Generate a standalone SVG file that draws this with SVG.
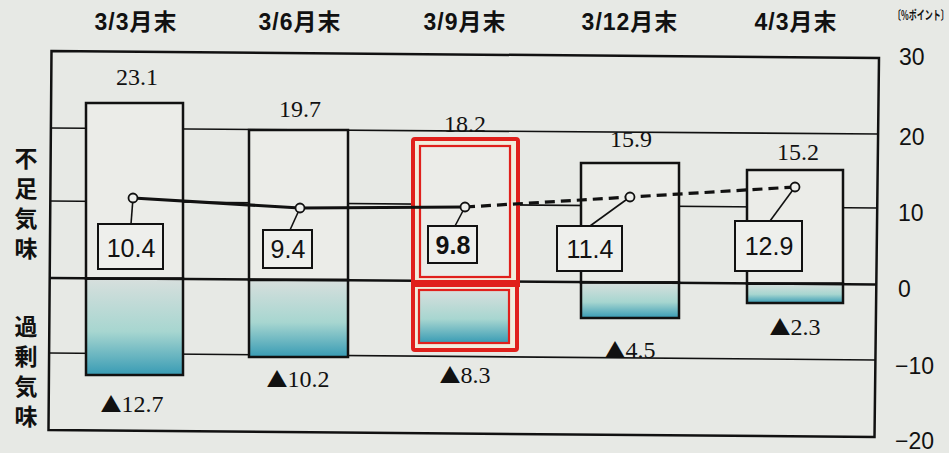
<svg xmlns="http://www.w3.org/2000/svg" width="949" height="453" viewBox="0 0 949 453">
<defs>
<linearGradient id="neg" x1="0" y1="0" x2="0" y2="1">
<stop offset="0" stop-color="#d7dfdd"/>
<stop offset="0.55" stop-color="#a7d6d0"/>
<stop offset="1" stop-color="#389bb4"/>
</linearGradient>
<style>
.bg{fill:#e7e9e5}
.grid{stroke:#111;stroke-width:1.6;fill:none}
.frame{stroke:#111;stroke-width:2.5;fill:none}
.bup{fill:#ebece8;stroke:#111;stroke-width:2.5}
.bdn{fill:url(#neg);stroke:#111;stroke-width:2.5}
.hdr{font-family:"Liberation Sans","Noto Sans CJK JP",sans-serif;font-weight:bold;font-size:23px;letter-spacing:1px;fill:#111;text-anchor:middle}
.ax{font-family:"Liberation Sans",sans-serif;font-size:23px;fill:#111}
.side{font-family:"Noto Sans CJK JP",sans-serif;font-weight:bold;font-size:23px;fill:#111;writing-mode:vertical-rl;letter-spacing:7px}
.val{font-family:"Liberation Serif","DejaVu Serif",serif;font-size:24px;fill:#111;text-anchor:middle}
.tri{font-family:"Noto Sans CJK JP",sans-serif;font-size:21px}
.box{fill:#eeefec;stroke:#111;stroke-width:2}
.bt{font-family:"Liberation Sans",sans-serif;font-size:25px;fill:#111;text-anchor:middle}
.ser{fill:none;stroke:#111;stroke-width:3.2}
.lead{stroke:#111;stroke-width:1.6;fill:none}
.pt{fill:#eeefec;stroke:#111;stroke-width:1.8}
</style>
</defs>
<rect class="bg" x="0" y="0" width="949" height="453"/>

<g id="headers">
<text class="hdr" x="136" y="30">3/3月末</text>
<text class="hdr" x="300" y="30">3/6月末</text>
<text class="hdr" x="465" y="30">3/9月末</text>
<text class="hdr" x="630" y="30">3/12月末</text>
<text class="hdr" x="796" y="30">4/3月末</text>
<text transform="translate(893,20) scale(0.64,1)" font-family="Noto Sans CJK JP,sans-serif" font-size="12.5" font-weight="bold" fill="#111">〔%ポイント〕</text>
</g>

<g id="side-labels">
<text class="side" x="26" y="147">不足気味</text>
<text class="side" x="26" y="315">過剰気味</text>
</g>

<g id="axis">
<text class="ax" x="899" y="65">30</text>
<text class="ax" x="899" y="145">20</text>
<text class="ax" x="898" y="221">10</text>
<text class="ax" x="898" y="297">0</text>
<text class="ax" x="895" y="374">−10</text>
<text class="ax" x="895" y="449">−20</text>
</g>

<g id="grid">
<polygon class="frame" points="51.5,51 879,58 874.5,437 48.5,430"/>
<line class="grid" x1="51" y1="128" x2="878" y2="134"/>
<line class="grid" x1="50" y1="201" x2="877" y2="208"/>
<line class="grid" x1="49" y1="353" x2="875" y2="360"/>
</g>

<g id="bar-1">
<rect class="bup" x="86" y="103" width="97" height="175.7"/>
<rect class="bdn" x="86" y="278.7" width="97" height="96.3"/>
</g>
<g id="bar-2">
<rect class="bup" x="249" y="130" width="99" height="150"/>
<rect class="bdn" x="249" y="280" width="99" height="77"/>
</g>
<g id="bar-4">
<rect class="bup" x="581" y="163" width="98" height="119.5"/>
<rect class="bdn" x="581" y="282.5" width="98" height="35.5"/>
</g>
<g id="bar-5">
<rect class="bup" x="747" y="170" width="96" height="113.7"/>
<rect class="bdn" x="747" y="283.7" width="96" height="19.3"/>
</g>

<line class="frame" x1="49.5" y1="278" x2="876" y2="284.5"/>

<g id="bar-3">
<rect x="413" y="139" width="105" height="144" fill="#f1ecdc" stroke="#e0201c" stroke-width="4" rx="2"/>
<rect x="413" y="284" width="104" height="66" fill="#f1ecdc" stroke="#e0201c" stroke-width="4" rx="2"/>
<rect x="420" y="146" width="90" height="131" fill="#ebece8" stroke="#e0201c" stroke-width="2.2"/>
<rect x="419" y="290" width="90" height="53" fill="url(#neg)" stroke="#e0201c" stroke-width="2.2"/>
<rect x="411" y="280" width="109" height="7" fill="#e0201c"/>
</g>

<g id="connectors">
<polyline class="ser" points="133,198 300,208 465,207"/>
<polyline class="ser" points="465,207 630,197 795,187" stroke-dasharray="10,6"/>
<line class="lead" x1="133" y1="198" x2="131" y2="224"/>
<line class="lead" x1="300" y1="208" x2="290" y2="230"/>
<line class="lead" x1="465" y1="207" x2="455" y2="226"/>
<line class="lead" x1="630" y1="197" x2="590" y2="226"/>
<line class="lead" x1="795" y1="187" x2="770" y2="221"/>
</g>

<g id="points">
<circle class="pt" cx="133" cy="198" r="4.5"/>
<circle class="pt" cx="300" cy="208" r="4.5"/>
<circle class="pt" cx="465" cy="207" r="4.5"/>
<circle class="pt" cx="630" cy="197" r="4.5"/>
<circle class="pt" cx="795" cy="187" r="4.5"/>
</g>

<g id="box-1"><rect class="box" x="98" y="224" width="65" height="45"/><text class="bt" x="131" y="257">10.4</text></g>
<g id="box-2"><rect class="box" x="263" y="230" width="49" height="38"/><text class="bt" x="288" y="258">9.4</text></g>
<g id="box-3"><rect class="box" x="428" y="226" width="49" height="37"/><text class="bt" x="453" y="254" font-weight="bold">9.8</text></g>
<g id="box-4"><rect class="box" x="557" y="226" width="65" height="45"/><text class="bt" x="590" y="258">11.4</text></g>
<g id="box-5"><rect class="box" x="735" y="221" width="67" height="50"/><text class="bt" x="769" y="255">12.9</text></g>

<g id="values">
<text class="val" x="137" y="85">23.1</text>
<text class="val" x="300" y="117">19.7</text>
<text class="val" x="465" y="132">18.2</text>
<text class="val" x="631" y="147">15.9</text>
<text class="val" x="798" y="160">15.2</text>
<text class="val" x="132" y="412"><tspan class="tri">▲</tspan>12.7</text>
<text class="val" x="298" y="387"><tspan class="tri">▲</tspan>10.2</text>
<text class="val" x="465" y="383"><tspan class="tri">▲</tspan>8.3</text>
<text class="val" x="630" y="358"><tspan class="tri">▲</tspan>4.5</text>
<text class="val" x="795" y="335"><tspan class="tri">▲</tspan>2.3</text>
</g>
</svg>
